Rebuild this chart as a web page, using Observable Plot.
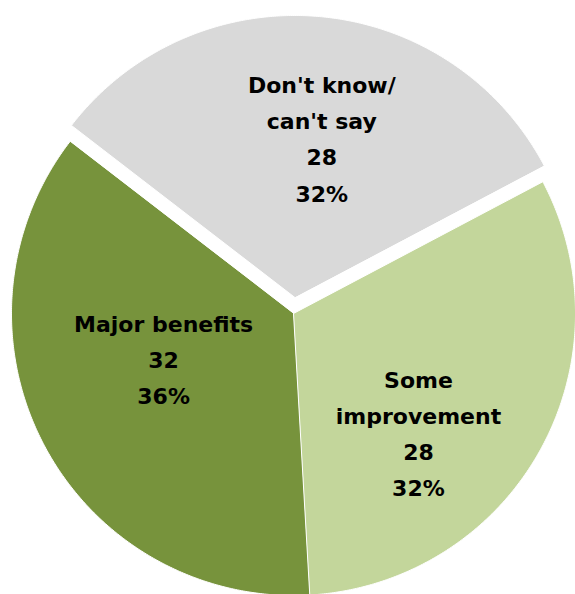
<!DOCTYPE html>
<html>
<head>
<meta charset="utf-8">
<script src="https://cdn.jsdelivr.net/npm/d3@7"></script>
<script src="https://cdn.jsdelivr.net/npm/@observablehq/plot@0.6"></script>
<style>
  html, body { margin: 0; padding: 0; background: #fff; }
  #chart svg { display: block; }
</style>
</head>
<body>
<div id="chart"></div>
<script>
// ---- data ----
const categories = ["Don't know/can't say", "Some improvement", "Major benefits"];
const labelNames = ["Don't know/\ncan't say", "Some\nimprovement", "Major benefits"];
const counts = [28, 28, 32];
const colors = ["#D9D9D9", "#C3D69B", "#77933C"];

// ---- layout ----
const W = 575, H = 594;
const cx = 293, cy = 313, R = 282;      // pie centre and radius in px
const startDeg = -52.4;                  // first slice starts here (clockwise from 12 o'clock)
const explode = [0.057, 0, 0];           // radial offset (fraction of radius)
const labelShiftDeg = [4.6, 13.7, 9.6];  // label angle offset from slice mid-angle
const labelRadius = [0.581, 0.607, 0.485];

const rad = Math.PI / 180;
const total = d3.sum(counts);
const arcs = d3.pie().sort(null)
  .startAngle(startDeg * rad)
  .endAngle(startDeg * rad + 2 * Math.PI)(counts);

const slicePts = [];
const labels = [];
arcs.forEach((a, i) => {
  const mid = (a.startAngle + a.endAngle) / 2;
  const ox = explode[i] * Math.sin(mid), oy = explode[i] * Math.cos(mid);
  slicePts.push({cat: categories[i], x: ox, y: oy});
  const n = Math.ceil((a.endAngle - a.startAngle) / (0.4 * rad));
  for (let k = 0; k <= n; k++) {
    const t = a.startAngle + (a.endAngle - a.startAngle) * k / n;
    slicePts.push({cat: categories[i], x: ox + Math.sin(t), y: oy + Math.cos(t)});
  }
  const la = mid + labelShiftDeg[i] * rad;
  labels.push({
    x: ox + labelRadius[i] * Math.sin(la),
    y: oy + labelRadius[i] * Math.cos(la),
    text: labelNames[i] + "\n" + counts[i] + "\n" + Math.round(counts[i] / total * 100) + "%"
  });
});

const chart = Plot.plot({
  width: W, height: H,
  marginTop: 0, marginRight: 0, marginBottom: 0, marginLeft: 0,
  x: {domain: [-cx / R, (W - cx) / R], axis: null},
  y: {domain: [-(H - cy) / R, cy / R], axis: null},
  color: {domain: categories, range: colors},
  style: {background: "#fff"},
  marks: [
    Plot.line(slicePts, {x: "x", y: "y", z: "cat", fill: "cat", stroke: "#fff",
      strokeWidth: 1, curve: "linear-closed"}),
    Plot.text(labels, {x: "x", y: "y", text: "text", fill: "#000",
      fontSize: 22, fontWeight: "bold", fontFamily: "DejaVu Sans",
      lineHeight: 1.64, textAnchor: "middle"})
  ]
});
document.getElementById("chart").appendChild(chart);
</script>
</body>
</html>
